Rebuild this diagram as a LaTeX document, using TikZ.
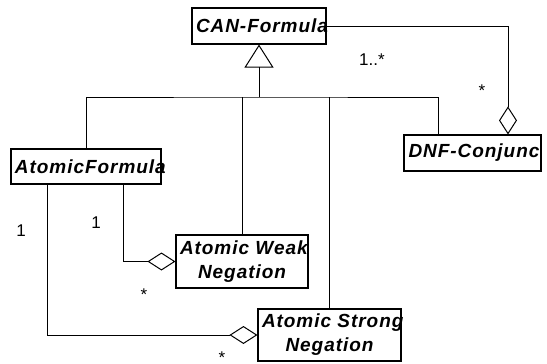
\documentclass[tikz,border=0pt]{standalone}
\usepackage{fontspec}
\setmainfont{Liberation Sans}
\newfontfamily\umlfont[LetterSpace=5]{Liberation Sans}
\usetikzlibrary{arrows.meta,positioning}

\begin{document}
\begin{tikzpicture}[x=1pt,y=-1pt,
		cls/.style={draw,line width=1.1pt,font=\umlfont\bfseries\itshape\fontsize{19}{24}\selectfont,align=center,inner xsep=4pt,inner ysep=2pt},
		mult/.style={font=\fontsize{17}{20}\selectfont,anchor=base,inner sep=0pt},
		gen/.style={-{Triangle[open,length=23pt,width=29pt]},line width=1pt},
		agg/.style={-{Diamond[open,length=28pt,width=18pt]},line width=1pt}]
				\useasboundingbox (0,0) rectangle (547,364);
				\node[cls,text width=126pt,minimum height=36pt] (can) at (259,26) {\mbox{CAN-Formula}};
				\node[cls,text width=142pt,minimum height=35pt] (atomic) at (86,166.5) {\mbox{AtomicFormula}};
				\node[cls,text width=124pt,minimum height=53pt] (weak) at (242,261.5) {\mbox{Atomic Weak}\\Negation};
				\node[cls,text width=135pt,minimum height=52pt] (strong) at (329.5,335) {\mbox{Atomic Strong}\\Negation};
				\node[draw,line width=1.1pt,minimum width=137pt,minimum height=36pt,inner sep=0pt,
					path picture={\node[font=\umlfont\bfseries\itshape\fontsize{19}{24}\selectfont,anchor=west,inner sep=0pt]
						at ([xshift=4pt]path picture bounding box.west) {DNF-Conjunct};}] (dnf) at (472.5,153) {};
				\coordinate (hub) at (259,97);
				\draw[gen] (hub) -- (can.south);
				\draw[line width=1pt] (atomic.north) |- (hub) -| ([xshift=-34.5pt]dnf.north);
				\draw[line width=1pt] (weak.north) -- (weak.north |- hub);
				\draw[line width=1pt] (strong.north) -- (strong.north |- hub);
				\draw[agg] ([xshift=37pt]atomic.south) |- (weak.west);
				\draw[agg] ([xshift=-39pt]atomic.south) |- (strong.west);
				\draw[agg] (can.east) -| ([xshift=35.5pt]dnf.north);
				\node[mult,anchor=base west] (m1) at (359,65) {1..*};
				\node[mult] (m2) at (482,96) {*};
				\node[mult] (m3) at (21,236) {1};
				\node[mult] (m4) at (96,228) {1};
				\node[mult] (m5) at (144,300) {*};
				\node[mult] (m6) at (222,363) {*};
\end{tikzpicture}
\end{document}
